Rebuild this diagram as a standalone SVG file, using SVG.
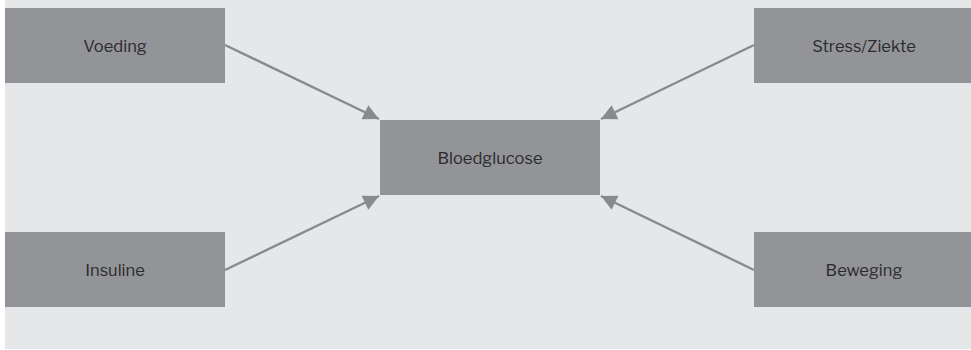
<svg xmlns="http://www.w3.org/2000/svg" width="971" height="350" viewBox="0 0 971 350">
<style>
.node rect{fill:#939497;}
.node text{font-family:"Libre Franklin","Liberation Sans",Arial,sans-serif;font-size:16.5px;fill:#2b2b2d;text-anchor:middle;}
.edge{stroke:#898a8c;stroke-width:2.4;fill:none;marker-end:url(#ah);}
</style>
<defs>
<marker id="ah" viewBox="0 0 10 10" refX="10" refY="5" markerWidth="7.5" markerHeight="6.5" markerUnits="strokeWidth" orient="auto">
<path d="M0,0 L10,5 L0,10 z" fill="#898a8c"/>
</marker>
</defs>
<rect x="0" y="0" width="971" height="350" fill="#ffffff"/>
<rect x="5" y="0" width="966" height="349" fill="#e6e7e8"/>
<g id="connectors">
<line class="edge" x1="225" y1="45" x2="379" y2="119"/>
<line class="edge" x1="754" y1="45" x2="601" y2="119"/>
<line class="edge" x1="225" y1="270" x2="379" y2="196"/>
<line class="edge" x1="754" y1="270" x2="601" y2="196"/>
</g>
<g id="voeding" class="node"><rect x="5" y="8" width="220" height="75"/><text x="115" y="52">Voeding</text></g>
<g id="stress" class="node"><rect x="754" y="8" width="217" height="75"/><text x="864" y="52">Stress/Ziekte</text></g>
<g id="bloedglucose" class="node"><rect x="380" y="120" width="220" height="75"/><text x="490" y="164">Bloedglucose</text></g>
<g id="insuline" class="node"><rect x="5" y="232" width="220" height="75"/><text x="115" y="276">Insuline</text></g>
<g id="beweging" class="node"><rect x="754" y="232" width="217" height="75"/><text x="864" y="276">Beweging</text></g>
</svg>
